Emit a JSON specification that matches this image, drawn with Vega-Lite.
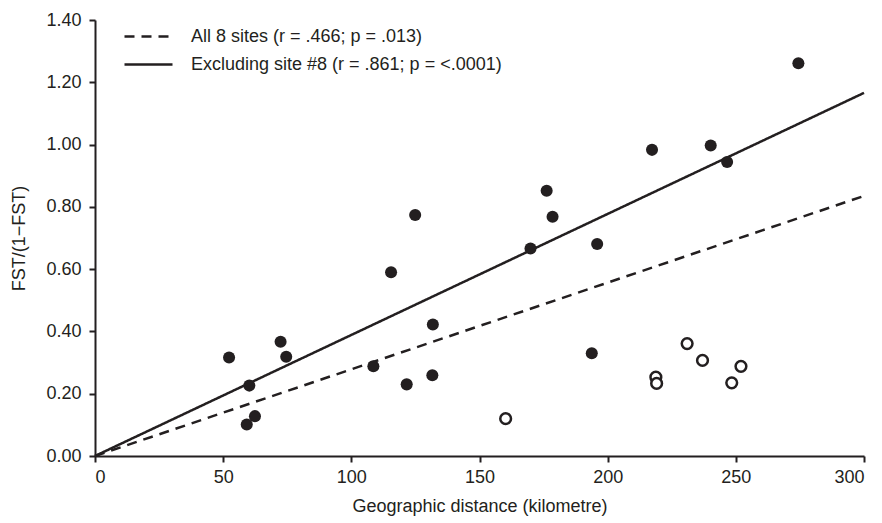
{
  "$schema": "https://vega.github.io/schema/vega-lite/v6.json",
  "width": 769,
  "height": 436,
  "autosize": "none",
  "padding": {"left": 95, "top": 20, "right": 18, "bottom": 67},
  "background": "white",
  "config": {
    "view": {"stroke": null},
    "font": "Liberation Sans",
    "axis": {
      "grid": false,
      "domainColor": "#231f20",
      "domainWidth": 2,
      "tickColor": "#231f20",
      "tickWidth": 2,
      "tickSize": 6,
      "labelFont": "Liberation Sans",
      "labelFontSize": 18,
      "labelColor": "#231f20",
      "titleFont": "Liberation Sans",
      "titleFontSize": 18,
      "titleFontWeight": "normal",
      "titleColor": "#231f20"
    },
    "legend": {
      "labelFont": "Liberation Sans",
      "labelFontSize": 18,
      "labelColor": "#231f20",
      "labelLimit": 500
    }
  },
  "datasets": {
    "pts": [
      {"d": 52.3, "f": 0.316, "grp": "filled"},
      {"d": 59.2, "f": 0.101, "grp": "filled"},
      {"d": 60.2, "f": 0.226, "grp": "filled"},
      {"d": 62.4, "f": 0.128, "grp": "filled"},
      {"d": 72.4, "f": 0.367, "grp": "filled"},
      {"d": 74.6, "f": 0.319, "grp": "filled"},
      {"d": 108.6, "f": 0.288, "grp": "filled"},
      {"d": 115.5, "f": 0.590, "grp": "filled"},
      {"d": 121.6, "f": 0.230, "grp": "filled"},
      {"d": 124.9, "f": 0.774, "grp": "filled"},
      {"d": 131.8, "f": 0.422, "grp": "filled"},
      {"d": 131.6, "f": 0.259, "grp": "filled"},
      {"d": 169.9, "f": 0.666, "grp": "filled"},
      {"d": 176.2, "f": 0.852, "grp": "filled"},
      {"d": 178.5, "f": 0.768, "grp": "filled"},
      {"d": 193.8, "f": 0.330, "grp": "filled"},
      {"d": 195.9, "f": 0.681, "grp": "filled"},
      {"d": 217.3, "f": 0.983, "grp": "filled"},
      {"d": 240.2, "f": 0.997, "grp": "filled"},
      {"d": 246.6, "f": 0.944, "grp": "filled"},
      {"d": 274.4, "f": 1.261, "grp": "filled"},
      {"d": 160.2, "f": 0.120, "grp": "open"},
      {"d": 218.8, "f": 0.253, "grp": "open"},
      {"d": 219.1, "f": 0.233, "grp": "open"},
      {"d": 231.0, "f": 0.361, "grp": "open"},
      {"d": 237.0, "f": 0.307, "grp": "open"},
      {"d": 248.4, "f": 0.235, "grp": "open"},
      {"d": 252.0, "f": 0.288, "grp": "open"}
    ],
    "lines": [
      {"d": 0, "f": 0, "series": "All 8 sites (r = .466; p = .013)"},
      {"d": 300, "f": 0.835, "series": "All 8 sites (r = .466; p = .013)"},
      {"d": 0, "f": 0, "series": "Excluding site #8 (r = .861; p = <.0001)"},
      {"d": 300, "f": 1.166, "series": "Excluding site #8 (r = .861; p = <.0001)"}
    ]
  },
  "layer": [
    {
      "data": {"name": "lines"},
      "mark": {"type": "line", "color": "#231f20", "strokeWidth": 2.5},
      "encoding": {
        "x": {
          "field": "d", "type": "quantitative",
          "scale": {"domain": [0, 300], "nice": false, "zero": true},
          "axis": {"values": [0, 50, 100, 150, 200, 250, 300], "title": "Geographic distance (kilometre)", "labelPadding": 6, "titlePadding": 11}
        },
        "y": {
          "field": "f", "type": "quantitative",
          "scale": {"domain": [0, 1.4], "nice": false},
          "axis": {"values": [0, 0.2, 0.4, 0.6, 0.8, 1.0, 1.2, 1.4], "format": ".2f", "title": "FST/(1−FST)", "labelPadding": 8, "titlePadding": 17}
        },
        "detail": {"field": "series"},
        "strokeDash": {
          "field": "series", "type": "nominal",
          "scale": {
            "domain": ["All 8 sites (r = .466; p = .013)", "Excluding site #8 (r = .861; p = <.0001)"],
            "range": [[10, 7], [1, 0]]
          },
          "legend": {
            "title": null,
            "orient": "none",
            "legendX": 42,
            "legendY": 5,
            "symbolType": "M-2.4,0H2.4",
            "symbolSize": 400,
            "symbolStrokeWidth": 2.5,
            "symbolStrokeColor": "#231f20",
            "symbolFillColor": "transparent",
            "rowPadding": 7,
            "labelOffset": 31
          }
        }
      }
    },
    {
      "data": {"name": "pts"},
      "transform": [{"filter": "datum.grp === 'filled'"}],
      "mark": {"type": "circle", "size": 145, "color": "#231f20", "opacity": 1},
      "encoding": {
        "x": {"field": "d", "type": "quantitative"},
        "y": {"field": "f", "type": "quantitative"}
      }
    },
    {
      "data": {"name": "pts"},
      "transform": [{"filter": "datum.grp === 'open'"}],
      "mark": {"type": "point", "shape": "circle", "size": 115, "strokeWidth": 2.5, "stroke": "#231f20", "fill": "white", "filled": false, "opacity": 1},
      "encoding": {
        "x": {"field": "d", "type": "quantitative"},
        "y": {"field": "f", "type": "quantitative"}
      }
    }
  ]
}
